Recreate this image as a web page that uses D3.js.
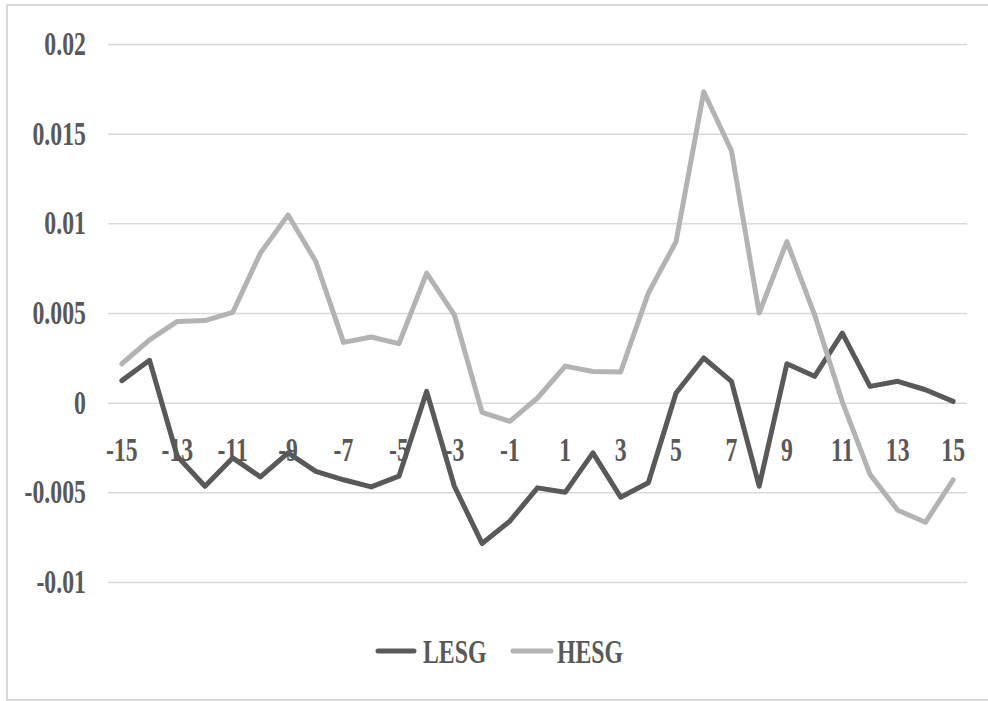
<!DOCTYPE html>
<html>
<head>
<meta charset="utf-8">
<script src="https://cdn.jsdelivr.net/npm/d3@7"></script>
<style>
  html, body { margin: 0; padding: 0; background: #fff; }
  svg { display: block; }
</style>
</head>
<body>
<svg id="chart" width="988" height="701"></svg>
<script>
// ---- data ----
const categories = d3.range(-15, 16);
const lesg = [0.00123, 0.00236, -0.00299, -0.00466, -0.00308, -0.00414, -0.0028, -0.00383, -0.0043, -0.0047,
              -0.0041, 0.00063, -0.00466, -0.00785, -0.00661, -0.00475, -0.005, -0.0028, -0.00527, -0.00447,
              0.00054, 0.00249, 0.00119, -0.00466, 0.00217, 0.00147, 0.00388, 0.00091, 0.00119, 0.00072, 0.00007];
const hesg = [0.00217, 0.0035, 0.00453, 0.00458, 0.00503, 0.00834, 0.01047, 0.00787, 0.00336, 0.00366,
              0.00329, 0.00722, 0.0049, -0.00054, -0.00104, 0.00026, 0.00204, 0.00174, 0.00171, 0.00611,
              0.00898, 0.01734, 0.01405, 0.005, 0.00898, 0.0049, 0.00005, -0.004, -0.006, -0.00667, -0.0043];
const yTicks = [-0.01, -0.005, 0, 0.005, 0.01, 0.015, 0.02];
const yTickLabels = ["-0.01", "-0.005", "0", "0.005", "0.01", "0.015", "0.02"];
const xTickLabels = categories.filter(c => Math.abs(c) % 2 === 1).map(String);
const seriesNames = ["LESG", "HESG"];
const seriesColors = ["#595959", "#b3b3b3"];

// ---- layout ----
const svg = d3.select("#chart");
const textColor = "#595959";
const font = "'Liberation Serif', 'Times New Roman', serif";
const fs = 34, sx = 0.7;

svg.append("rect").attr("x", 7).attr("y", 5).attr("width", 990).attr("height", 695)
  .attr("fill", "#fff").attr("stroke", "#d9d9d9").attr("stroke-width", 2);

const x = d3.scalePoint().domain(categories).range([108, 967]).padding(0.5);
const y = d3.scaleLinear().domain([-0.01, 0.02]).range([582, 44]);

// gridlines via axis
const grid = svg.append("g").attr("transform", "translate(108,0)")
  .call(d3.axisLeft(y).tickValues(yTicks).tickSize(-859).tickFormat(""));
grid.select(".domain").remove();
grid.selectAll("line").attr("stroke", "#d9d9d9").attr("stroke-width", 1.5);

function label(g, px, py, txt, anchor) {
  const t = g.append("g").attr("transform", `translate(${px},${py}) scale(${sx},1)`);
  t.append("text").attr("text-anchor", anchor)
    .attr("font-family", font).attr("font-weight", "bold").attr("font-size", fs)
    .attr("fill", textColor).text(txt);
}

// y labels
const yl = svg.append("g");
yTicks.forEach((v, i) => label(yl, 86, y(v) + 11, yTickLabels[i], "end"));

// x labels
const xl = svg.append("g");
xTickLabels.forEach(t => label(xl, x(+t), 461, t, "middle"));

// lines (HESG drawn last, on top)
const line = d3.line().x((d, i) => x(categories[i])).y(d => y(d));
[lesg, hesg].forEach((s, k) => {
  svg.append("path").datum(s).attr("d", line)
    .attr("fill", "none").attr("stroke", seriesColors[k]).attr("stroke-width", 5)
    .attr("stroke-linejoin", "round").attr("stroke-linecap", "round");
});

// legend
const lg = svg.append("g");
const legendItems = [{x1: 378, x2: 414, tx: 423}, {x1: 513, x2: 551, tx: 557}];
legendItems.forEach((it, k) => {
  lg.append("line").attr("x1", it.x1).attr("x2", it.x2).attr("y1", 651).attr("y2", 651)
    .attr("stroke", seriesColors[k]).attr("stroke-width", 5).attr("stroke-linecap", "round");
  label(lg, it.tx, 663, seriesNames[k], "start");
});
</script>
</body>
</html>
